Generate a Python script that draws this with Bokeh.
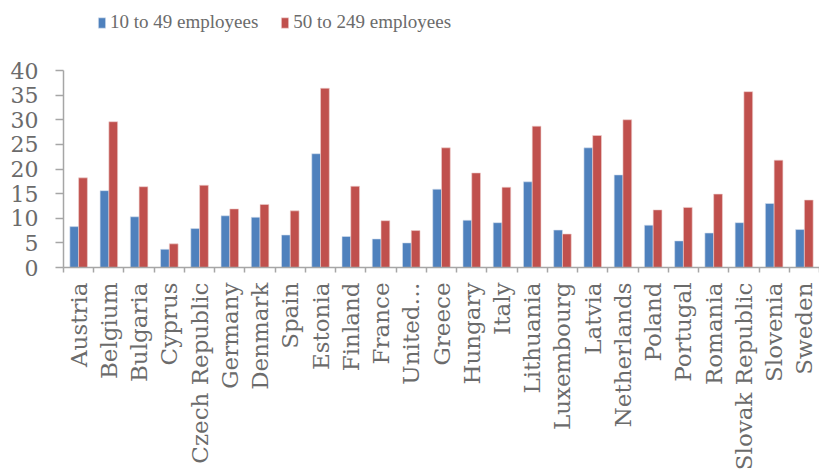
import math
from bokeh.plotting import figure
from bokeh.models import ColumnDataSource, Range1d, FixedTicker, LinearAxis, Legend, LegendItem
from bokeh.transform import dodge
from bokeh.embed import file_html
from bokeh.resources import INLINE

countries = ["Austria", "Belgium", "Bulgaria", "Cyprus", "Czech Republic", "Germany",
             "Denmark", "Spain", "Estonia", "Finland", "France", "United…", "Greece",
             "Hungary", "Italy", "Lithuania", "Luxembourg", "Latvia", "Netherlands",
             "Poland", "Portugal", "Romania", "Slovak Republic", "Slovenia", "Sweden"]
small = [8.3, 15.6, 10.3, 3.7, 7.9, 10.5, 10.2, 6.6, 23.1, 6.3, 5.8, 5.0, 15.9,
         9.6, 9.1, 17.4, 7.6, 24.3, 18.8, 8.6, 5.4, 7.0, 9.1, 13.0, 7.7]
medium = [18.2, 29.6, 16.4, 4.8, 16.7, 11.9, 12.8, 11.5, 36.4, 16.5, 9.5, 7.5, 24.3,
          19.2, 16.3, 28.7, 6.8, 26.8, 30.0, 11.7, 12.2, 14.9, 35.7, 21.8, 13.7]
series_names = ["10 to 49 employees", "50 to 249 employees"]
y_ticks = [0, 5, 10, 15, 20, 25, 30, 35, 40]

n = len(countries)
centers = [i + 0.5 for i in range(n)]
bounds = list(range(n + 1))
src = ColumnDataSource(dict(x=centers, small=small, medium=medium))

GRAY = "#A6A6A6"
TXT = "#6B6B6B"

# frame spans the full top so the legend can sit above the value area
FRAME_H = 267
AXIS_TOP_PX = 70
y_top = y_ticks[-1] * FRAME_H / (FRAME_H - AXIS_TOP_PX)

p = figure(width=819, height=473, output_backend="svg", toolbar_location=None,
           x_range=Range1d(0, n), y_range=Range1d(0, y_top),
           x_axis_type=None, y_axis_type=None,
           min_border_left=63, min_border_right=0, min_border_top=0,
           min_border_bottom=473 - FRAME_H)
p.outline_line_color = None

r1 = p.vbar(x=dodge("x", -0.145, range=p.x_range), top="small", width=0.29, source=src,
            fill_color="#4F81BD", line_color="#D6E0EE", line_width=0.6)
r2 = p.vbar(x=dodge("x", 0.145, range=p.x_range), top="medium", width=0.29, source=src,
            fill_color="#C0504D", line_color="#EED0CF", line_width=0.6)

yax = LinearAxis(ticker=FixedTicker(ticks=y_ticks, minor_ticks=[]))
yax.bounds = (y_ticks[0], y_ticks[-1])
yax.axis_line_color = GRAY
yax.axis_line_width = 1.5
yax.major_tick_line_color = GRAY
yax.major_tick_line_width = 1.5
yax.major_tick_out = 8
yax.major_tick_in = 0
yax.major_label_standoff = 17
yax.major_label_text_font = "DejaVu Serif"
yax.major_label_text_font_size = "22px"
yax.major_label_text_color = TXT
p.add_layout(yax, "left")

xax = LinearAxis(ticker=FixedTicker(ticks=centers, minor_ticks=bounds))
xax.major_label_overrides = {c: name for c, name in zip(centers, countries)}
xax.major_label_orientation = math.pi / 2
xax.axis_line_color = GRAY
xax.axis_line_width = 1.5
xax.major_tick_out = 0
xax.major_tick_in = 0
xax.minor_tick_out = 5
xax.minor_tick_in = 0
xax.minor_tick_line_color = GRAY
xax.minor_tick_line_width = 1.5
xax.major_label_standoff = 10
xax.major_label_text_font = "DejaVu Serif"
xax.major_label_text_font_size = "23px"
xax.major_label_text_color = TXT
p.add_layout(xax, "below")

p.ygrid.ticker = FixedTicker(ticks=y_ticks)
p.ygrid.grid_line_color = GRAY
p.ygrid.grid_line_width = 1.5
p.xgrid.grid_line_color = None

legend = Legend(items=[LegendItem(label=series_names[0], renderers=[r1]),
                       LegendItem(label=series_names[1], renderers=[r2])],
                orientation="horizontal", location=(34, FRAME_H - 33))
legend.border_line_color = None
legend.background_fill_alpha = 0
legend.padding = 0
legend.margin = 0
legend.spacing = 22
legend.label_standoff = 4
legend.glyph_width = 9
legend.glyph_height = 13
legend.label_text_font = "Liberation Serif"
legend.label_text_font_size = "19px"
legend.label_text_color = TXT
p.add_layout(legend, "center")

open("out.html", "w").write(file_html(p, INLINE))
